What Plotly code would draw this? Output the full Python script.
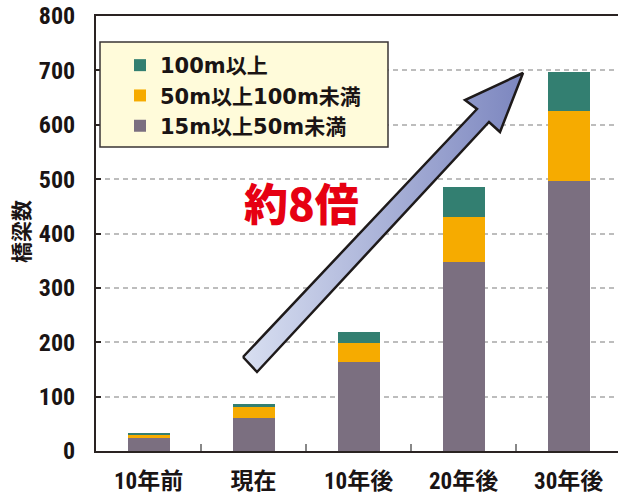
import plotly.graph_objects as go

categories = ["10年前", "現在", "10年後", "20年後", "30年後"]
s15_50 = [24, 60, 163, 348, 496]
s50_100 = [5, 21, 35, 82, 129]
s100 = [4, 5, 21, 55, 72]
series_names = ["15m以上50m未満", "50m以上100m未満", "100m以上"]
colors = ["#7B6F80", "#F6AB00", "#337F71"]
legend_ranks = [3, 2, 1]
y_ticks = [0, 100, 200, 300, 400, 500, 600, 700, 800]

NUM_FONT = "Roboto Condensed, Open Sans, Noto Sans CJK JP, sans-serif"
LEG_FONT = "DejaVu Sans, Noto Sans CJK JP, sans-serif"
DARK = "#2a2322"

fig = go.Figure()
for name, vals, col, rk in zip(series_names, [s15_50, s50_100, s100], colors, legend_ranks):
    fig.add_trace(go.Bar(
        x=categories, y=vals, name=name, marker=dict(color=col, line=dict(width=0)),
        width=0.4, legendrank=rk,
    ))

# decorative arrow drawn on overlay axes expressed in page pixels
arrow_x = [243, 477, 465, 523, 500, 489, 257, 243]
arrow_y = [357, 109, 100, 73, 132, 122, 372, 357]
fig.add_trace(go.Scatter(
    x=arrow_x, y=arrow_y, xaxis="x2", yaxis="y2", mode="lines", fill="toself",
    line=dict(color="#1e1a1a", width=2.5),
    fillgradient=dict(type="horizontal", colorscale=[[0, "#D8DFF1"], [1, "#7C86BF"]]),
    showlegend=False, hoverinfo="skip",
))

W, H = 618, 497
PL, PR, PT, PB = 96, 618, 16, 451   # plot area in page pixels
L, T = PL, PT
B = H - PB
R = W - PR
pw, ph = PR - PL, PB - PT

def px(xp):
    return (xp - PL) / pw

def py(yp):
    return (PB - yp) / ph

fig.update_layout(
    width=W, height=H, barmode="stack",
    margin=dict(l=L, r=R, t=T, b=B, pad=0, autoexpand=False),
    plot_bgcolor="white", paper_bgcolor="white",
    xaxis=dict(
        type="category", range=[-0.5, 4.47], showgrid=False, automargin=False,
        showline=True, linecolor=DARK, linewidth=2, mirror=True,
        ticks="inside", tickson="boundaries", ticklen=7, tickcolor="#888888", tickwidth=1.5,
        tickfont=dict(family=NUM_FONT, size=23, color="#1a1414", weight="bold"),
        ticklabelstandoff=8,
    ),
    yaxis=dict(
        range=[0, 800], tickvals=y_ticks, showgrid=True, gridcolor="#BDBDBD",
        griddash="5px,4px", gridwidth=1.5, zeroline=False, automargin=False,
        showline=True, linecolor=DARK, linewidth=2,
        ticks="inside", ticklen=5, tickcolor=DARK, tickwidth=1.5,
        tickfont=dict(family=NUM_FONT, size=24, color="#1a1414", weight="bold"),
        ticklabelstandoff=14, ticklabeloverflow="allow",
    ),
    xaxis2=dict(overlaying="x", range=[PL, PR], visible=False),
    yaxis2=dict(overlaying="y", range=[PB, PT], visible=False),
    legend=dict(
        x=px(120), y=py(45), xanchor="left", yanchor="top",
        bgcolor="rgba(0,0,0,0)", borderwidth=0, traceorder="normal",
        font=dict(family=LEG_FONT, size=21, color="#1a1414", weight="bold"),
    ),
    shapes=[
        dict(type="rect", xref="paper", yref="paper",
             x0=px(100), x1=px(388), y0=py(147), y1=py(42),
             fillcolor="#FFFBDA", line=dict(color="#3a3434", width=1.5), layer="above"),
    ],
    annotations=[
        dict(text="橋梁数", xref="paper", yref="paper", x=px(20), y=py(232),
             textangle=-90, showarrow=False, xanchor="center", yanchor="middle",
             font=dict(family="Noto Sans CJK JP", size=21, color="#1a1414", weight="bold")),
        dict(text="約8倍", xref="paper", yref="paper", x=px(301), y=py(202),
             showarrow=False, xanchor="center", yanchor="middle",
             font=dict(family="Noto Sans CJK JP", size=44, color="#E60012", weight=900)),
    ],
)

fig.write_html(
    "out.html",
    config={"displayModeBar": False},
    post_script="document.body.style.margin='0';document.body.style.overflow='hidden';",
)
